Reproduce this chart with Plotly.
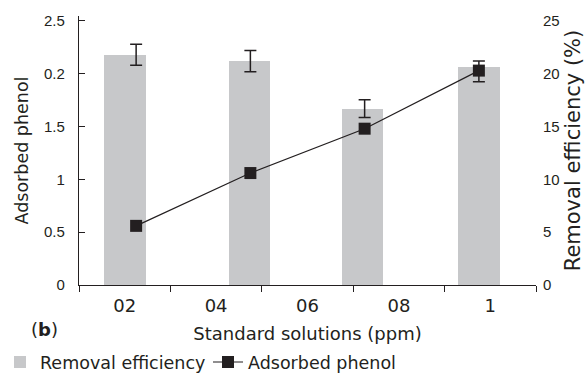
import plotly.graph_objects as go

# Concentration groups and measured values
concentrations = ["02", "04", "08", "1"]
removal_efficiency = [21.8, 21.2, 16.7, 20.6]          # %
removal_err_plus = [1.0, 1.0, 0.85, 0.6]
removal_err_minus = [1.0, 1.0, 0.85, 1.35]
adsorbed_phenol = [0.56, 1.06, 1.48, 2.03]

# Axis labelling
x_tick_labels = ["02", "04", "06", "08", "1"]
left_tick_vals = [0, 0.5, 1, 1.5, 2, 2.5]
left_tick_text = ["0", "0.5", "1", "1.5", "0.2", "2.5"]
right_tick_marks = [0, 5, 10, 15, 20, 25, 30]
right_tick_labels = [0, 5, 10, 15, 20, 25]

INK = "#231f20"
BAR = "#c7c8ca"
NARROW = "Liberation Sans, Arial, sans-serif"
WIDE = "DejaVu Sans, Verdana, sans-serif"

PHENOL_RANGE = [0, 2.547]
REMOVAL_RANGE = [0, 25.47]

fig = go.Figure()

# Category axis carrying the printed x labels
fig.add_trace(go.Scatter(
    x=x_tick_labels, y=[None] * len(x_tick_labels), mode="markers",
    xaxis="x", yaxis="y", showlegend=False, hoverinfo="skip",
))

# Removal efficiency bars
fig.add_trace(go.Bar(
    x=concentrations, y=removal_efficiency, name="Removal efficiency",
    xaxis="x2", yaxis="y3", marker=dict(color=BAR, line=dict(width=0)),
    width=0.365, offset=[-0.28, -0.19, -0.2, -0.18],
))

# Error bars for the removal efficiency
fig.add_trace(go.Scatter(
    x=concentrations, y=removal_efficiency, mode="markers",
    marker=dict(opacity=0, size=1), xaxis="x2", yaxis="y3",
    showlegend=False, hoverinfo="skip",
    error_y=dict(type="data", symmetric=False, array=removal_err_plus,
                 arrayminus=removal_err_minus, color=INK, thickness=1.5, width=6),
))

# Adsorbed phenol line (on an overlay sharing the left scale, drawn above the bars)
fig.add_trace(go.Scatter(
    x=concentrations, y=adsorbed_phenol, name="Adsorbed phenol",
    mode="lines+markers", xaxis="x2", yaxis="y4",
    line=dict(color=INK, width=1.2),
    marker=dict(symbol="square", size=12, color=INK),
))

axis_common = dict(showgrid=False, zeroline=False, linecolor=INK, linewidth=1.2,
                   tickcolor=INK, tickwidth=1.2, automargin=False)

fig.update_layout(
    width=588, height=380,
    margin=dict(l=79, r=52, t=16, b=95),
    paper_bgcolor="white", plot_bgcolor="white",
    font=dict(family=NARROW, color=INK, size=15),
    bargap=0,
    xaxis=dict(
        type="category", categoryorder="array", categoryarray=x_tick_labels,
        range=[-0.5, 4.5], tickson="boundaries", ticks="outside", ticklen=6,
        showline=True, anchor="y", ticklabelstandoff=4,
        tickfont=dict(family=WIDE, size=18, color=INK),
        title=dict(text="Standard solutions (ppm)",
                   font=dict(family=WIDE, size=18, color=INK), standoff=12),
        **axis_common,
    ),
    xaxis2=dict(
        type="category", categoryorder="array", categoryarray=concentrations,
        range=[-0.5, 3.5], overlaying="x", visible=False,
    ),
    yaxis=dict(
        range=PHENOL_RANGE, tickvals=left_tick_vals, ticktext=left_tick_text,
        ticks="inside", ticklen=6, showline=True, ticklabelstandoff=10,
        tickfont=dict(size=15, color=INK),
        title=dict(text="Adsorbed phenol",
                   font=dict(family=WIDE, size=17.5, color=INK), standoff=10),
        **axis_common,
    ),
    yaxis2=dict(
        range=[0, 30], tickvals=right_tick_marks, overlaying="y", side="right",
        anchor="x", ticks="outside", ticklen=6, showline=True,
        showticklabels=False,
        **axis_common,
    ),
    yaxis3=dict(
        range=REMOVAL_RANGE, tickvals=right_tick_labels, overlaying="y", side="right",
        anchor="x", ticks="", showline=False, ticklabelstandoff=6,
        tickfont=dict(size=15, color=INK),
        title=dict(text="Removal efficiency (%)",
                   font=dict(family=WIDE, size=21, color=INK), standoff=6),
        **axis_common,
    ),
    yaxis4=dict(
        range=PHENOL_RANGE, overlaying="y", visible=False,
    ),
    legend=dict(
        orientation="h", xref="container", yref="container",
        x=0, y=0.047, xanchor="left", yanchor="middle",
        font=dict(family=WIDE, size=17.5, color=INK), bgcolor="rgba(0,0,0,0)",
        traceorder="normal", itemwidth=30,
        entrywidth=163, entrywidthmode="pixels",
    ),
    annotations=[dict(
        text="(<b>b</b>)", xref="paper", yref="paper",
        x=-0.0744, y=-0.1636, xanchor="center", yanchor="middle",
        showarrow=False, font=dict(family=WIDE, size=18, color=INK),
    )],
)

fig.write_html("out.html")
